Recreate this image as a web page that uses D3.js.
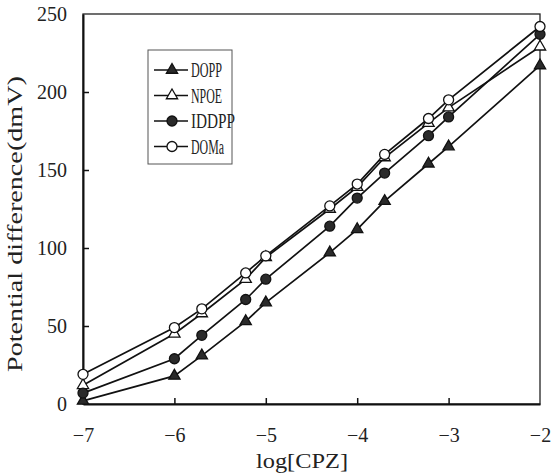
<!DOCTYPE html>
<html>
<head>
<meta charset="utf-8">
<script src="https://cdn.jsdelivr.net/npm/d3@7"></script>
<style>
    html, body { margin: 0; padding: 0; background: #fff; }
    svg { display: block; }
</style>
</head>
<body>
<svg id="chart" width="560" height="476"></svg>
<script>
// log[CPZ] positions where the potentials were measured
const logConc = [-7, -6, -5.7, -5.22, -5, -4.3, -4, -3.7, -3.22, -3, -2];

const seriesNames = ["DOPP", "NPOE", "IDDPP", "DOMa"];
const doppValues  = [2, 18, 31, 53, 65, 97, 112, 130, 154, 165, 217];
const npoeValues  = [12, 45, 58, 80, 94, 125, 139, 158, 180, 190, 229];
const iddppValues = [7, 29, 44, 67, 80, 114, 132, 148, 172, 184, 237];
const domaValues  = [19, 49, 61, 84, 95, 127, 141, 160, 183, 195, 242];

const xTicks = [-7, -6, -5, -4, -3, -2];
const yTicks = [0, 50, 100, 150, 200, 250];

const xTitle = "log[CPZ]";
const yTitle = "Potential difference(dmV)";

const ink = "#111";
const serif = "'Liberation Serif', 'DejaVu Serif', serif";

const plot = { left: 83, right: 540, top: 14, bottom: 404 };

const svg = d3.select("#chart");

const x = d3.scaleLinear().domain([-7, -2]).range([plot.left, plot.right]);
const y = d3.scaleLinear().domain([0, 250]).range([plot.bottom, plot.top]);

// frame
svg.append("rect")
    .attr("x", plot.left)
    .attr("y", plot.top)
    .attr("width", plot.right - plot.left)
    .attr("height", plot.bottom - plot.top)
    .attr("fill", "none")
    .attr("stroke", "#222")
    .attr("stroke-width", 1.3);

const xAxis = svg.append("g")
    .attr("transform", `translate(0,${plot.bottom})`)
    .call(d3.axisBottom(x)
        .tickValues(xTicks)
        .tickFormat(d => d3.format("d")(d).replace("-", "\u2212"))
        .tickSize(-6)
        .tickSizeOuter(0)
        .tickPadding(24));

const yAxis = svg.append("g")
    .attr("transform", `translate(${plot.left},0)`)
    .call(d3.axisLeft(y)
        .tickValues(yTicks)
        .tickSize(-6)
        .tickSizeOuter(0)
        .tickPadding(16));

[xAxis, yAxis].forEach(g => {
    g.select(".domain").attr("stroke", ink).attr("stroke-width", 2);
    g.selectAll(".tick line").attr("stroke", ink).attr("stroke-width", 1.5);
    g.selectAll(".tick text")
        .attr("fill", "#222")
        .style("font-family", serif)
        .style("font-size", "20px");
});

// the end ticks sit on the frame
xAxis.selectAll(".tick")
    .filter(d => d === -7 || d === -2)
    .select("line").remove();
yAxis.selectAll(".tick")
    .filter(d => d === 0 || d === 250)
    .select("line").remove();

svg.append("text")
    .attr("x", 302)
    .attr("y", 468)
    .attr("text-anchor", "middle")
    .attr("textLength", 92)
    .attr("lengthAdjust", "spacingAndGlyphs")
    .attr("fill", "#222")
    .style("font-family", serif)
    .style("font-size", "20px")
    .text(xTitle);

svg.append("text")
    .attr("transform", "translate(22,224) rotate(-90)")
    .attr("text-anchor", "middle")
    .attr("textLength", 296)
    .attr("lengthAdjust", "spacingAndGlyphs")
    .attr("fill", "#222")
    .style("font-family", serif)
    .style("font-size", "20px")
    .text(yTitle);

// series
const series = [
    { name: seriesNames[0], values: doppValues,  shape: "triangle", filled: true },
    { name: seriesNames[1], values: npoeValues,  shape: "triangle", filled: false },
    { name: seriesNames[2], values: iddppValues, shape: "circle",   filled: true },
    { name: seriesNames[3], values: domaValues,  shape: "circle",   filled: false }
];

const line = d3.line()
    .x((d, i) => x(logConc[i]))
    .y(d => y(d));

function marker(g, s) {
    if (s.shape === "circle") {
        g.append("circle").attr("r", 5);
    } else {
        g.append("path").attr("d", d3.symbol(d3.symbolTriangle, 55)());
    }
    g.selectAll("circle, path")
        .attr("fill", s.filled ? "#2a2a2a" : "#fff")
        .attr("stroke", ink)
        .attr("stroke-width", 1.3);
}

series.forEach(s => {
    svg.append("path")
        .datum(s.values)
        .attr("d", line)
        .attr("fill", "none")
        .attr("stroke", ink)
        .attr("stroke-width", 1.7);
});

series.forEach(s => {
    svg.append("g")
        .selectAll("g")
        .data(s.values)
        .join("g")
        .attr("transform", (d, i) => `translate(${x(logConc[i])},${y(d)})`)
        .each(function () { marker(d3.select(this), s); });
});

// legend
const legend = svg.append("g").attr("transform", "translate(148,50)");
legend.append("rect")
    .attr("width", 84)
    .attr("height", 114)
    .attr("fill", "#fff")
    .attr("stroke", "#555")
    .attr("stroke-width", 1);

const legendWidths = { DOPP: 31, NPOE: 31, IDDPP: 44, DOMa: 33 };

series.forEach((s, i) => {
    const row = legend.append("g").attr("transform", `translate(0,${20 + i * 25.5})`);
    row.append("line")
        .attr("x1", 6).attr("x2", 40)
        .attr("stroke", ink)
        .attr("stroke-width", 1.7);
    marker(row.append("g").attr("transform", "translate(24,0)"), s);
    row.append("text")
        .attr("x", 43)
        .attr("dy", "0.35em")
        .attr("textLength", legendWidths[s.name])
        .attr("lengthAdjust", "spacingAndGlyphs")
        .attr("fill", "#222")
        .style("font-family", serif)
        .style("font-size", "20px")
        .text(s.name);
});
</script>
</body>
</html>
